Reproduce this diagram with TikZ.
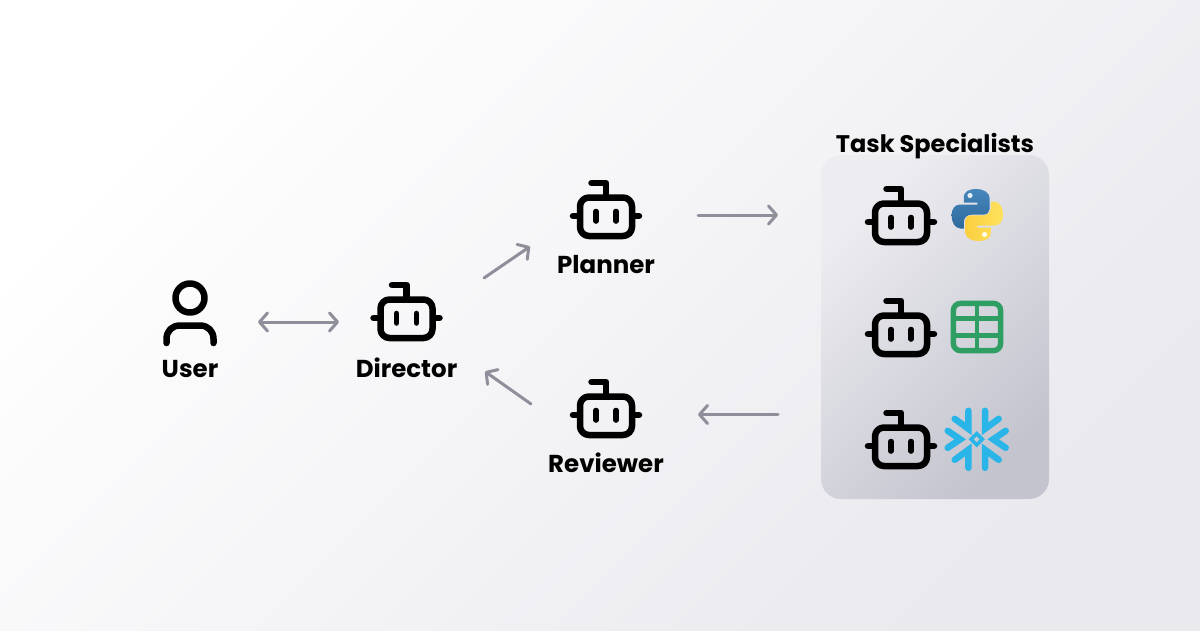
\documentclass[tikz,border=0pt]{standalone}
\usepackage{fontspec}
\setmainfont{Poppins}
\usetikzlibrary{arrows.meta,calc}
\definecolor{arrowgray}{HTML}{8F8F9B}
\definecolor{bgA}{HTML}{FFFFFF}
\definecolor{bgB}{HTML}{E9E9EE}
\definecolor{panelA}{HTML}{EDEDF1}
\definecolor{panelB}{HTML}{C4C4CF}
\definecolor{tablegreen}{HTML}{2E9E63}
\definecolor{snowblue}{HTML}{29B5E8}
\definecolor{pyblueA}{HTML}{4586BC}
\definecolor{pyblueB}{HTML}{2F6A9C}
\definecolor{pyyellowA}{HTML}{FFE25E}
\definecolor{pyyellowB}{HTML}{FBCF3F}
\tikzset{
  x=1pt,y=-1pt,
  actor/.style={inner sep=0pt,outer sep=0pt,minimum height=60pt},
  caption/.style={font=\bfseries\fontsize{24.5}{27}\selectfont,inner sep=0pt,text=black},
  flow/.style={draw=arrowgray,line width=3pt,line cap=round,
    arrows={-Straight Barb[length=8pt,width=18pt,line width=3pt,round]}},
  flowboth/.style={flow,arrows={Straight Barb[length=8pt,width=18pt,line width=3pt,round]-Straight Barb[length=8pt,width=18pt,line width=3pt,round]}},
  iconline/.style={line width=6.5pt,line cap=round,line join=round,draw=black},
  robot/.pic={
    \draw[iconline,rounded corners=9pt] (-26,-18.5) rectangle (26,20);
    \draw[iconline,line cap=round] (0.2,-19) -- (0.2,-33) -- (-14.5,-33);
    \draw[iconline] (-33,0) -- (-27,0);
    \draw[iconline] (33,0) -- (27,0);
    \draw[iconline,line width=5.6pt] (-10,-4.5) -- (-10,5);
    \draw[iconline,line width=5.6pt] (10,-4.5) -- (10,5);
  },
  pyhalf/.pic={
    \path[pic actions] (-0.5,-26) .. controls (-9,-26) and (-13.5,-23) .. (-13.5,-18)
      -- (-13.5,-12.5) -- (0,-12.5) -- (0,-10.5) -- (-17,-10.5)
      .. controls (-22.5,-10.5) and (-25.7,-6) .. (-25.7,0)
      .. controls (-25.7,7) and (-23,13) .. (-17,13.5) -- (-13.5,13.5) -- (-13.5,7)
      .. controls (-13.5,2.5) and (-10,-0.3) .. (-6,-0.3) -- (6,-0.3)
      .. controls (10,-0.3) and (12.3,-3) .. (12.3,-6) -- (12.3,-17)
      .. controls (12.3,-22.5) and (6,-26) .. (-0.5,-26) -- cycle;
  },
}
\begin{document}
\begin{tikzpicture}
  % page background
  \shade[top color=bgA,bottom color=bgB,shading angle=45] (0,0) rectangle (1200,630);
  \useasboundingbox (0,0) rectangle (1200,630);

  % specialists panel
  \node[rounded corners=20pt,minimum width=228pt,minimum height=344pt,inner sep=0pt,outer sep=0pt,
        top color=panelA,bottom color=panelB,shading angle=45] (panel) at (935,327) {};
  \node[caption,font=\bfseries\fontsize{24}{27}\selectfont] (paneltitle) at (935,146) {Task Specialists};

  % actors: invisible boxes that the arrows attach to
  \node[actor,minimum width=136pt] (user) at (190,322) {};
  \node[actor,minimum width=135pt] (director) at (406.5,322) {};
  \node[actor,minimum width=184pt] (planner) at (606,215) {};
  \node[actor,minimum width=184pt] (reviewer) at (606,414.5) {};

  % user icon
  \draw[iconline] (190,298) circle (14.5);
  \draw[iconline] (166.5,343) -- (166.5,339) .. controls (166.5,331) and (172,325.5) .. (180,325.5)
     -- (200,325.5) .. controls (208,325.5) and (213.5,331) .. (213.5,339) -- (213.5,343);
  \node[caption] (userlabel) at (190,368.5) {User};

  % agent icons
  \pic at (406.5,318) {robot};
  \node[caption] (directorlabel) at (406.5,367.5) {Director};
  \pic at (606,216) {robot};
  \node[caption] (plannerlabel) at (606,264.5) {Planner};
  \pic at (606,415) {robot};
  \node[caption] (reviewerlabel) at (606,463) {Reviewer};
  \pic at (901,222) {robot};
  \pic at (901,334) {robot};
  \pic at (901,446) {robot};

  % python logo
  \pic[left color=pyblueA,right color=pyblueB,shading angle=0] at (977.3,215) {pyhalf};
  \pic[left color=pyyellowB,right color=pyyellowA,rotate=180] at (977.3,215) {pyhalf};
  \fill[white!85!pyblueA] (970,195.5) circle (2.6);
  \fill[white!85!pyyellowA] (984.6,234.5) circle (2.6);

  % table icon
  \draw[tablegreen,line width=5.4pt,rounded corners=7pt] (953.4,303.4) rectangle (1000.6,350.6);
  \draw[tablegreen,line width=4.6pt] (976.8,303) -- (976.8,351);
  \draw[tablegreen,line width=4.6pt] (953,318.5) -- (1001,318.5);
  \draw[tablegreen,line width=4.6pt] (953,335.5) -- (1001,335.5);

  % snowflake icon
  \begin{scope}[shift={(976.7,439.3)},line width=6.5pt,line cap=round,line join=miter]
    \draw[snowblue] (-8.3,-28.5) -- (-8.3,-10.5) -- (-22,-20.5);
    \draw[snowblue] (8.3,-28.5) -- (8.3,-10.5) -- (22,-20.5);
    \draw[snowblue] (-8.3,28.5) -- (-8.3,10.5) -- (-22,20.5);
    \draw[snowblue] (8.3,28.5) -- (8.3,10.5) -- (22,20.5);
    \draw[snowblue] (-29,-8.5) -- (-16.5,0) -- (-29,8.5);
    \draw[snowblue] (29,-8.5) -- (16.5,0) -- (29,8.5);
    \draw[snowblue,line width=3.6pt] (0,-5.6) -- (5.6,0) -- (0,5.6) -- (-5.6,0) -- cycle;
  \end{scope}

  % connectors
  \draw[flowboth] (user.east) -- (director.west);
  \draw[flow] ([shift={(10,-44)}]director.east) -- ([shift={(16,31.5)}]planner.west);
  \draw[flow] (planner.east) -- ([shift={(-43,-112)}]panel.west);
  \draw[flow] ([shift={(-43,87.5)}]panel.west) -- (reviewer.east);
  \draw[flow] ([shift={(17,-10.5)}]reviewer.west) -- ([shift={(11,49.5)}]director.east);
\end{tikzpicture}
\end{document}
